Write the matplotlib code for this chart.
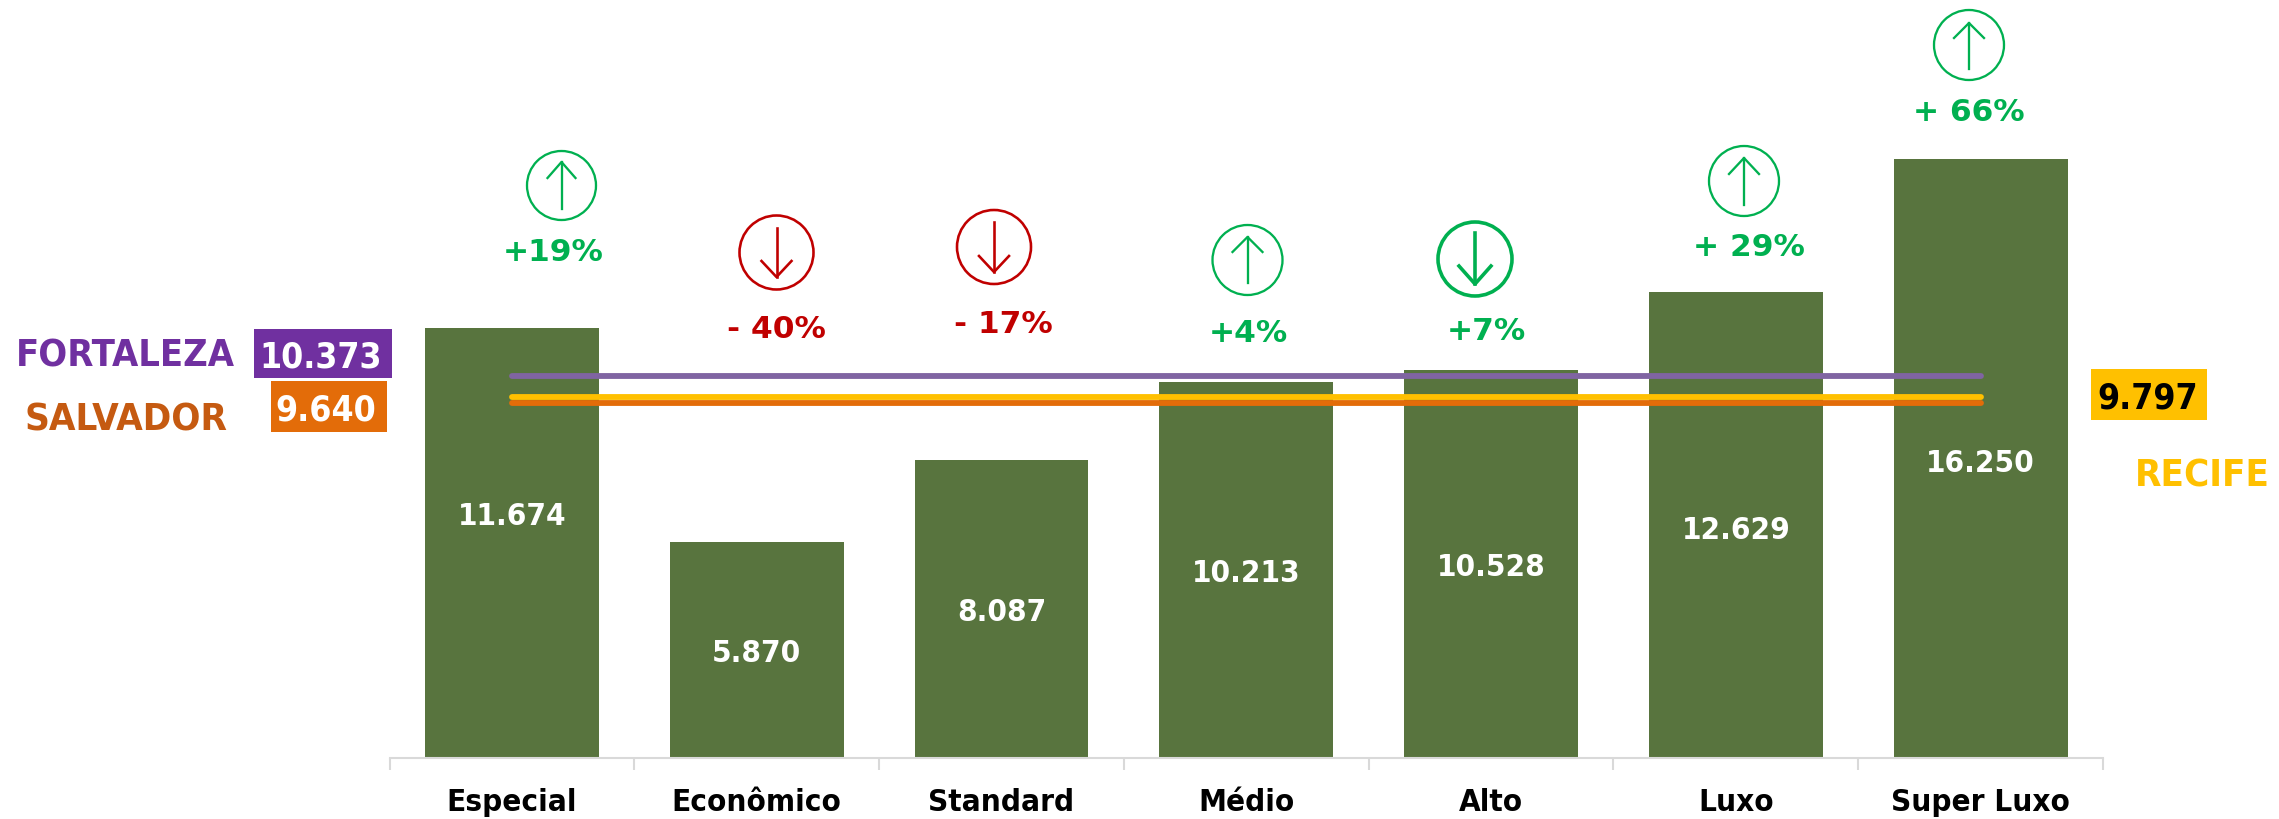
import matplotlib
matplotlib.use("Agg")
import matplotlib.pyplot as plt
from matplotlib.patches import Ellipse, Rectangle

W = 2279
H = 820

categories = ["Especial", "Econômico", "Standard", "Médio", "Alto", "Luxo", "Super Luxo"]
values = [11674, 5870, 8087, 10213, 10528, 12629, 16250]
value_labels = ["11.674", "5.870", "8.087", "10.213", "10.528", "12.629", "16.250"]
# the first label sits above the middle of its bar in the reference
label_heights = [6670, 2935, 4043, 5106, 5264, 6270, 8100]

fortaleza = [10373] * 7
recife = [9797] * 7
salvador = [9640] * 7

change_labels = ["+19%", "- 40%", "- 17%", "+4%", "+7%", "+ 29%", "+ 66%"]
change_colors = ["#00B050", "#C00000", "#C00000", "#00B050", "#00B050", "#00B050", "#00B050"]
change_text_pos = [(553, 261), (776, 338), (1003, 333), (1248, 342), (1486, 340), (1749, 256), (1969, 121)]

# circle centre x, centre y, diameter, arrow start y, arrow tip y, head base y, head half width, line px
arrows = [
    (561.5, 186.5, 69, 210, 163, 179, 14, 2.3),
    (776.5, 253.5, 74, 229, 278, 262, 15, 2.6),
    (994, 248, 74, 223, 273, 257, 15, 2.6),
    (1247.5, 261, 70, 284, 238, 253, 15, 2.3),
    (1475, 260, 74, 234, 285, 267, 16, 3.6),
    (1744, 182, 70, 206, 159, 175, 15, 2.3),
    (1969, 46, 70, 70, 24, 39, 15, 2.3),
]

plt.rcParams['font.family'] = ['DejaVu Sans']
plt.rcParams['font.weight'] = 'bold'
plt.rcParams['font.stretch'] = 'condensed'

fig = plt.figure(figsize=(W / 100, H / 100), dpi=100)

# main chart, placed in pixels so the bars land on the reference
left, right, bottom = 389.5, 2103, 759
ax = fig.add_axes([left / W, (H - bottom) / H, (right - left) / W, bottom / H])
ax.set_xlim(-0.5, 6.5)
ax.set_ylim(0, 20590)

x = list(range(len(categories)))
ax.bar(x, values, width=0.71, color="#58743E", zorder=2)

ax.plot(x, fortaleza, color="#8064A2", lw=4.2, solid_capstyle="round", zorder=3)
ax.plot(x, salvador, color="#E36C09", lw=4.2, solid_capstyle="round", zorder=3)
ax.plot(x, recife, color="#FFC000", lw=4.2, solid_capstyle="round", zorder=4)

for i in x:
    ax.annotate(value_labels[i], (i, label_heights[i]), xytext=(0, -8.3), textcoords="offset points",
                color="white", fontsize=22.5, ha="center", va="baseline", zorder=5)

for s in ["top", "left", "right"]:
    ax.spines[s].set_visible(False)
ax.spines["bottom"].set_color("#D9D9D9")
ax.spines["bottom"].set_linewidth(1.5)
ax.set_yticks([])
ax.set_xticks([i - 0.5 for i in range(8)])
ax.set_xticklabels([])
ax.tick_params(axis="x", which="major", length=8.5, width=1.5, color="#D9D9D9")
ax.set_xticks(x, minor=True)
ax.set_xticklabels(categories, minor=True, fontsize=22.5, color="black")
ax.tick_params(axis="x", which="minor", length=0, pad=21)

# overlay in reference pixels for the annotations
ov = fig.add_axes([0, 0, 1, 1])
ov.set_xlim(0, W)
ov.set_ylim(H, 0)
ov.axis("off")
ov.patch.set_alpha(0)

for (cx, cy, d, y0, y1, yb, hw, lw), c in zip(arrows, change_colors):
    lw = lw * 0.72
    ov.add_patch(Ellipse((cx, cy), d, d, fill=False, edgecolor=c, lw=lw))
    ov.plot([cx, cx], [y0, y1], color=c, lw=lw)
    ov.plot([cx - hw, cx, cx + hw], [yb, y1, yb], color=c, lw=lw)

for label, c, (tx, ty) in zip(change_labels, change_colors, change_text_pos):
    ov.text(tx, ty, label, color=c, fontsize=22.5, ha="center", va="baseline", stretch="normal")

ov.add_patch(Rectangle((254, 330), 138, 49, color="#7030A0", lw=0))
ov.add_patch(Rectangle((271, 382), 116, 51, color="#E36C09", lw=0))
ov.add_patch(Rectangle((2091, 370), 116, 51, color="#FFC000", lw=0))

ov.text(321, 368, "10.373", color="white", fontsize=25.5, ha="center", va="baseline")
ov.text(326, 421, "9.640", color="white", fontsize=25.5, ha="center", va="baseline")
ov.text(2148, 409, "9.797", color="black", fontsize=25.5, ha="center", va="baseline")

ov.text(125, 367, "FORTALEZA", color="#7030A0", fontsize=27.2, ha="center", va="baseline")
ov.text(126, 431, "SALVADOR", color="#C55A11", fontsize=27.5, ha="center", va="baseline")
ov.text(2202, 487, "RECIFE", color="#FFC000", fontsize=27.5, ha="center", va="baseline")

fig.savefig("out.png", dpi=100)
